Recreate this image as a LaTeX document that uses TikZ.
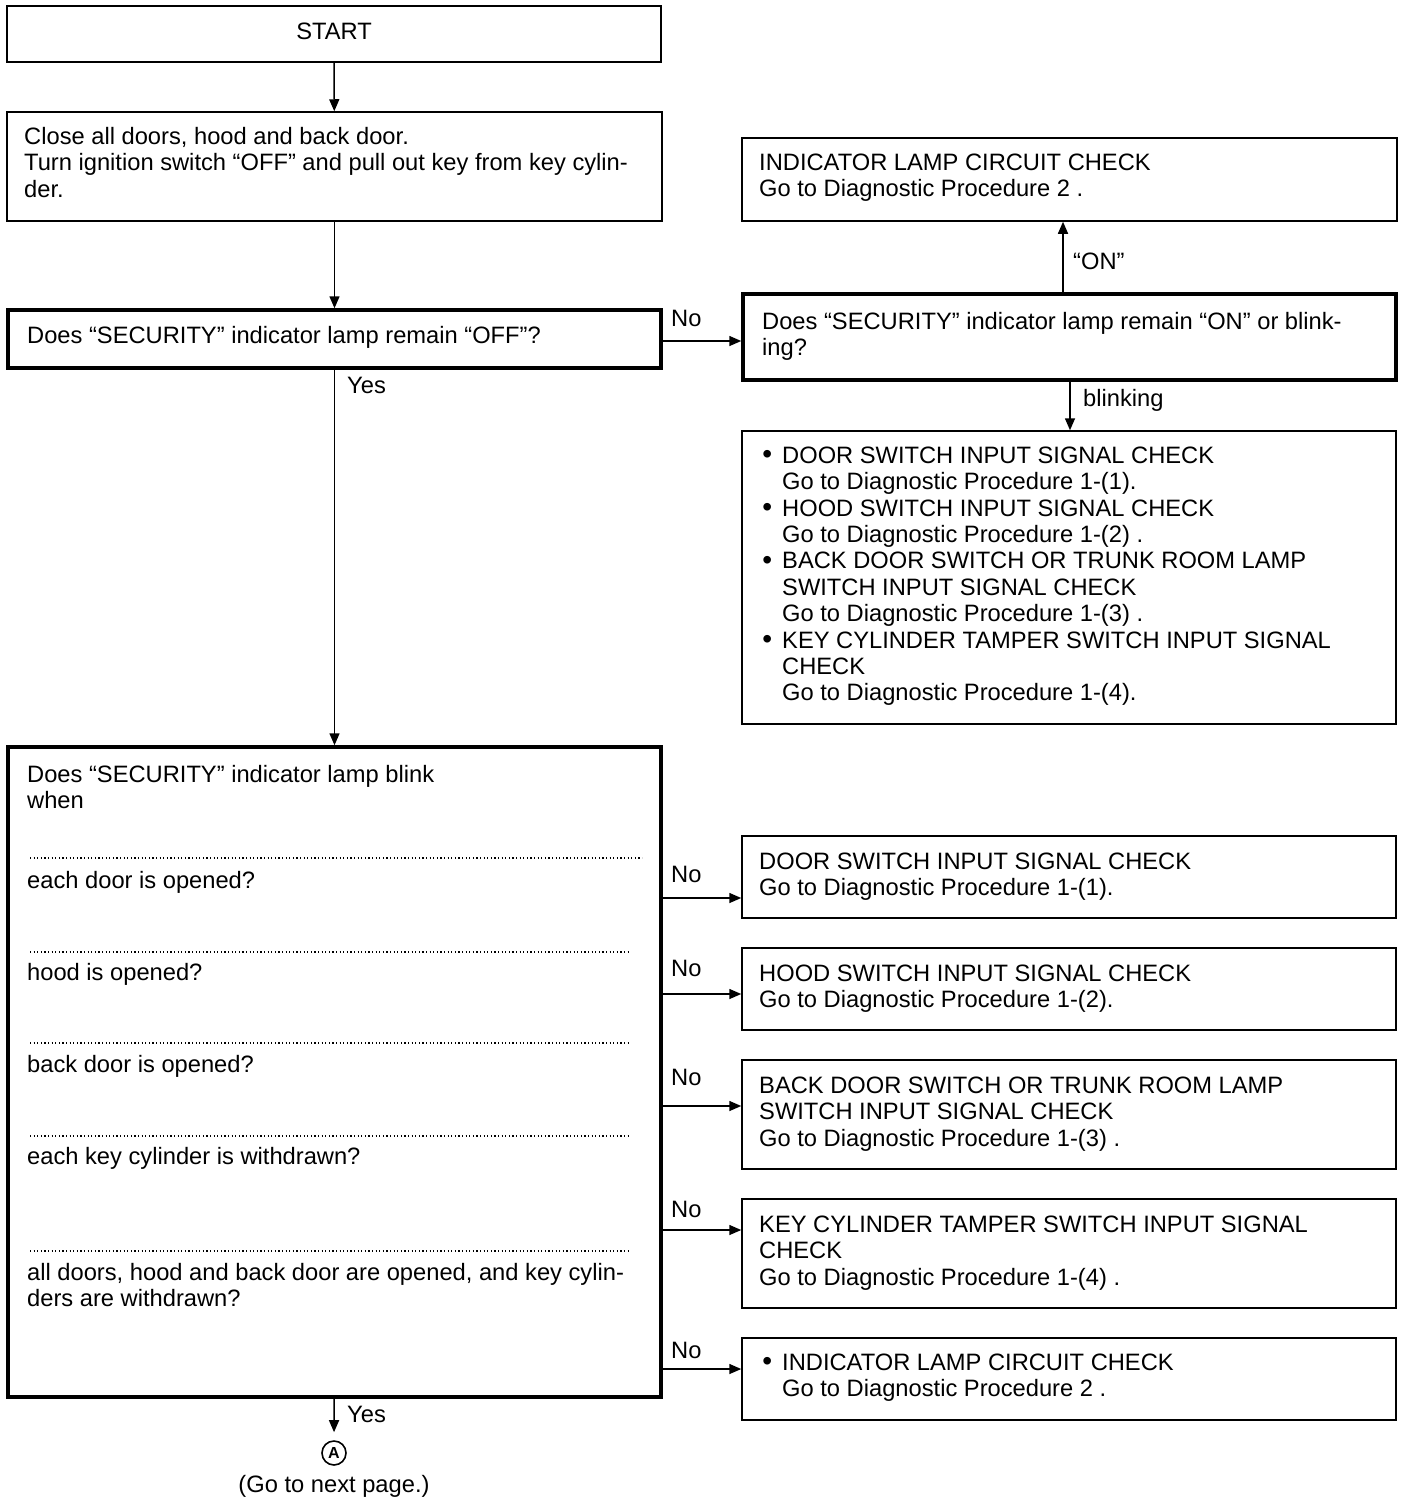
\documentclass[tikz,border=0pt]{standalone}
\usepackage{fontspec}
\setmainfont{Liberation Sans}
\usetikzlibrary{arrows.meta,fit,calc}
\newcommand\ft{\fontsize{23.7pt}{26.4pt}\selectfont}
\newcommand\fl{\rule{0pt}{18pt}}
\newcommand\bul{\llap{\raisebox{-0.5pt}{\fontsize{28pt}{28pt}\selectfont •}\hspace{10pt}}}
\tikzset{
  box/.style={draw, line width=1.5pt, inner sep=0pt},
  heavybox/.style={draw, line width=3.5pt, inner sep=0pt},
  txt/.style={anchor=north west, inner sep=0pt, align=left, font=\ft},
  lbl/.style={anchor=base west, inner sep=0pt, font=\ft},
  arr/.style={-{Triangle[length=12pt,width=10pt]}, line width=1.5pt},
  dotline/.style={line width=1.2pt, dash pattern=on 1.2pt off 2.4pt}
}
\begin{document}
\begin{tikzpicture}[x=1pt,y=-1pt]
\useasboundingbox (0,0) rectangle (1408,1502);
% boxes
\node[box, fit={(7,6) (661,62)}] (start) {};
\node[anchor=base, inner sep=0pt, font=\ft] (starttxt) at (334,39) {START};
\node[box, fit={(7,112) (662,221)}] (close) {};
\node[txt] (closetxt) at (24,126) {\fl Close all doors, hood and back door.\\Turn ignition switch “OFF” and pull out key from key cylin-\\der.};
\node[heavybox, fit={(8,310) (661,368)}] (off) {};
\node[txt] (offtxt) at (27,325) {\fl Does “SECURITY” indicator lamp remain “OFF”?};
\node[heavybox, fit={(743,294) (1396,380)}] (on) {};
\node[txt] (ontxt) at (762,311) {\fl Does “SECURITY” indicator lamp remain “ON” or blink-\\ing?};
\node[box, fit={(742,138) (1397,221)}] (ind) {};
\node[txt] (indtxt) at (759,152) {\fl INDICATOR LAMP CIRCUIT CHECK\\Go to Diagnostic Procedure 2 .};
\node[box, fit={(742,431) (1396,724)}] (list) {};
\node[txt] (listtxt) at (782,445) {\fl\bul DOOR SWITCH INPUT SIGNAL CHECK\\Go to Diagnostic Procedure 1-(1).\\\bul HOOD SWITCH INPUT SIGNAL CHECK\\Go to Diagnostic Procedure 1-(2) .\\\bul BACK DOOR SWITCH OR TRUNK ROOM LAMP\\SWITCH INPUT SIGNAL CHECK\\Go to Diagnostic Procedure 1-(3) .\\\bul KEY CYLINDER TAMPER SWITCH INPUT SIGNAL\\CHECK\\Go to Diagnostic Procedure 1-(4).};
\node[heavybox, fit={(8,747) (661,1397)}] (blink) {};
\node[txt] (blinktxt) at (27,764) {\fl Does “SECURITY” indicator lamp blink\\when};
\node[txt] (q1) at (27,870) {\fl each door is opened?};
\node[txt] (q2) at (27,962) {\fl hood is opened?};
\node[txt] (q3) at (27,1054) {\fl back door is opened?};
\node[txt] (q4) at (27,1146) {\fl each key cylinder is withdrawn?};
\node[txt] (q5) at (27,1262) {\fl all doors, hood and back door are opened, and key cylin-\\ders are withdrawn?};
\coordinate (d1a) at (30,858); \coordinate (d1b) at (642,858);
\coordinate (d2a) at (30,952); \coordinate (d2b) at (630,952);
\coordinate (d3a) at (30,1043); \coordinate (d3b) at (630,1043);
\coordinate (d4a) at (30,1136); \coordinate (d4b) at (630,1136);
\coordinate (d5a) at (30,1251); \coordinate (d5b) at (630,1251);
\foreach \i in {1,...,5} {\draw[dotline] (d\i a) -- (d\i b);}
\node[box, fit={(742,836) (1396,918)}] (r1) {};
\node[txt] (r1t) at (759,851) {\fl DOOR SWITCH INPUT SIGNAL CHECK\\Go to Diagnostic Procedure 1-(1).};
\node[box, fit={(742,948) (1396,1030)}] (r2) {};
\node[txt] (r2t) at (759,963) {\fl HOOD SWITCH INPUT SIGNAL CHECK\\Go to Diagnostic Procedure 1-(2).};
\node[box, fit={(742,1060) (1396,1169)}] (r3) {};
\node[txt] (r3t) at (759,1075) {\fl BACK DOOR SWITCH OR TRUNK ROOM LAMP\\SWITCH INPUT SIGNAL CHECK\\Go to Diagnostic Procedure 1-(3) .};
\node[box, fit={(742,1199) (1396,1308)}] (r4) {};
\node[txt] (r4t) at (759,1214) {\fl KEY CYLINDER TAMPER SWITCH INPUT SIGNAL\\CHECK\\Go to Diagnostic Procedure 1-(4) .};
\node[box, fit={(742,1338) (1396,1420)}] (r5) {};
\node[txt] (r5t) at (782,1352) {\fl\bul INDICATOR LAMP CIRCUIT CHECK\\Go to Diagnostic Procedure 2 .};
\node[circle, draw, line width=1.6pt, inner sep=0pt, minimum size=24pt, font=\fontsize{16pt}{16pt}\selectfont\bfseries] (A) at (334,1453) {A};
\node[anchor=base, inner sep=0pt, font=\ft] (next) at (334,1492) {(Go to next page.)};
% connectors
\draw[arr] (start) -- (close);
\draw[arr] (close) -- (off);
\draw[arr] (off) -- (blink);
\draw[arr] (off.east |- 0,341) -- (on.west |- 0,341);
\draw[arr] (on.north -| 1063,0) -- (ind.south -| 1063,0);
\draw[arr] (on.south -| 1070,0) -- (list.north -| 1070,0);
\draw[arr] (blink.east |- 0,898) -- (r1.west |- 0,898);
\draw[arr] (blink.east |- 0,994) -- (r2.west |- 0,994);
\draw[arr] (blink.east |- 0,1106) -- (r3.west |- 0,1106);
\draw[arr] (blink.east |- 0,1230) -- (r4.west |- 0,1230);
\draw[arr] (blink.east |- 0,1369) -- (r5.west |- 0,1369);
\draw[arr, shorten >=8pt] (blink) -- (A);
% labels
\node[lbl] (l0) at (671,326) {No};
\node[lbl] (lyes) at (347,393) {Yes};
\node[lbl] (lon) at (1073,269) {“ON”};
\node[lbl] (lbl) at (1083,406) {blinking};
\node[lbl] (l1) at (671,882) {No};
\node[lbl] (l2) at (671,976) {No};
\node[lbl] (l3) at (671,1085) {No};
\node[lbl] (l4) at (671,1217) {No};
\node[lbl] (l5) at (671,1358) {No};
\node[lbl] (lyes2) at (347,1422) {Yes};
\end{tikzpicture}
\end{document}
